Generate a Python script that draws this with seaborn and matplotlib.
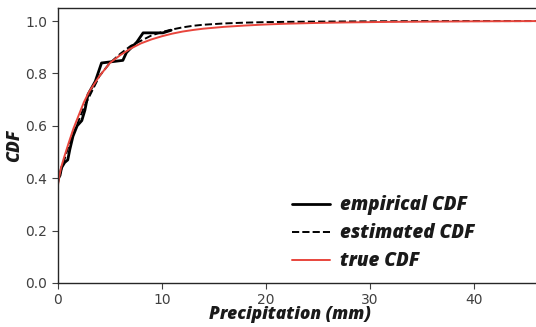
import matplotlib
matplotlib.use("Agg")
import matplotlib.pyplot as plt
import seaborn as sns

# empirical CDF (polyline through sample points)
emp_x = [0.0, 0.2, 0.35, 0.65, 0.95, 1.15, 1.45, 1.85, 2.3, 2.6, 2.9, 3.6, 4.2, 6.25, 6.6, 7.6, 8.2, 10.1, 10.9]
emp_y = [0.40, 0.41, 0.44, 0.46, 0.47, 0.51, 0.56, 0.60, 0.62, 0.66, 0.72, 0.77, 0.84, 0.85, 0.88, 0.92, 0.955, 0.955, 0.965]

# estimated CDF (fitted)
est_x = [0.0, 0.3, 0.7, 1.0, 1.5, 2.0, 2.5, 3.0, 3.5, 4.0, 5.0, 6.0, 7.0, 8.0, 9.0, 10.0, 11.0, 12.0, 13.0, 14.0, 16.0, 18.0, 20.0, 22.0, 25.0, 30.0, 35.0, 40.0, 46.0]
est_y = [0.38, 0.43, 0.48, 0.52, 0.57, 0.62, 0.67, 0.71, 0.75, 0.79, 0.84, 0.875, 0.905, 0.925, 0.945, 0.958, 0.968, 0.976, 0.982, 0.986, 0.991, 0.994, 0.996, 0.997, 0.998, 0.999, 1.0, 1.0, 1.0]

# true CDF
true_x = [0.0, 0.1, 0.3, 0.6, 1.0, 1.5, 2.0, 2.5, 3.0, 3.5, 4.0, 5.0, 6.0, 7.0, 8.0, 9.0, 10.0, 11.0, 12.0, 13.0, 14.0, 16.0, 18.0, 20.0, 22.0, 25.0, 28.0, 32.0, 36.0, 40.0, 46.0]
true_y = [0.37, 0.40, 0.44, 0.48, 0.53, 0.59, 0.64, 0.69, 0.73, 0.76, 0.79, 0.84, 0.87, 0.895, 0.915, 0.93, 0.942, 0.952, 0.96, 0.966, 0.971, 0.978, 0.983, 0.987, 0.99, 0.993, 0.995, 0.997, 0.998, 0.999, 1.0]

labels = ["empirical CDF", "estimated CDF", "true CDF"]

sns.set_style("ticks")
plt.rcParams["font.family"] = ["DejaVu Sans"]

fig = plt.figure(figsize=(5.36, 3.27), dpi=100)
ax = fig.add_axes([0.108, 0.1346, 0.892, 0.841])

sns.lineplot(x=emp_x, y=emp_y, ax=ax, color="black", lw=2.0, sort=False, label=labels[0])
sns.lineplot(x=est_x, y=est_y, ax=ax, color="black", lw=1.4, linestyle="--", sort=False, label=labels[1])
sns.lineplot(x=true_x, y=true_y, ax=ax, color="#e8453c", lw=1.4, sort=False, label=labels[2])

ax.set_xlim(0, 46)
ax.set_ylim(0, 1.05)
ax.set_xticks([0, 10, 20, 30, 40])
ax.set_yticks([0.0, 0.2, 0.4, 0.6, 0.8, 1.0])
ax.tick_params(labelsize=10, colors="0.25", length=4)
ax.spines["right"].set_visible(False)
for s in ["left", "bottom", "top"]:
    ax.spines[s].set_color("0.15")
    ax.spines[s].set_linewidth(1.0)

lblfont = dict(family="Open Sans", weight="extra bold", style="italic", size=12.5, color="0.1")
ax.set_xlabel("Precipitation (mm)", labelpad=1, **lblfont)
ax.xaxis.set_label_coords(0.486, -0.085)
ax.set_ylabel("CDF", labelpad=2, **lblfont)

leg = ax.legend(loc="center left", bbox_to_anchor=(0.455, 0.181), frameon=False,
                prop=dict(family="Open Sans", weight="extra bold", style="italic", size=13.5),
                handlelength=2.0, labelspacing=0.42, handletextpad=0.55)
for t in leg.get_texts():
    t.set_color("0.1")

fig.savefig("out.png", dpi=100)
